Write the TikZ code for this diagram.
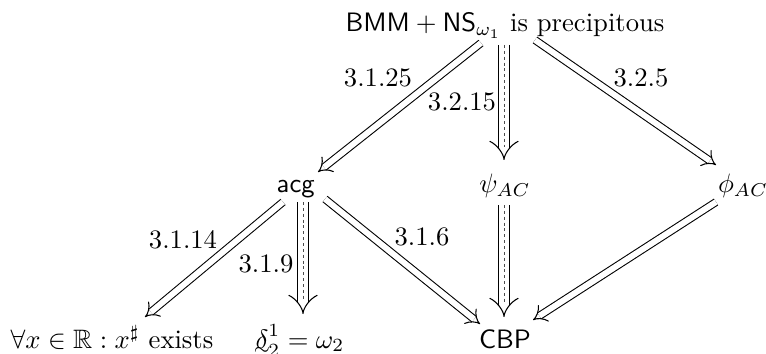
\documentclass[tikz,border=0pt]{standalone}
\usepackage{amsmath, amssymb}
\usepackage{tikz}
\usetikzlibrary{arrows.meta, positioning, calc}

\newcommand{\tdelta}{\ooalign{$\delta$\cr\hidewidth\raisebox{-0.6ex}{$\scriptstyle\sim$}\hidewidth\cr}}

\tikzset{
  stmt/.style={anchor=base, inner sep=1pt},
  dbl/.style={double, double distance=2.2pt, line width=0.4pt, -{Implies}},
  trpl/.style={preaction={draw, double, double distance=3.6pt, line width=0.4pt, -{Implies}, shorten >=0pt},
               line width=0.35pt, black!70, dash pattern=on 1.1pt off 1.1pt, shorten >=5pt},
  lbl/.style={inner sep=1pt}
}

\begin{document}
\begin{tikzpicture}[x=0.0132cm, y=-0.0132cm]
    \useasboundingbox (0,0) rectangle (766,354);
    % statements
    \node[stmt] (top) at (505,32) {$\mathsf{BMM}+\mathsf{NS}_{\omega_1}$ is precipitous};
    \node[stmt] (acg) at (296,193) {$\mathsf{acg}$};
    \node[stmt] (psi) at (505,193) {$\psi_{AC}$};
    \node[stmt] (phi) at (743,193) {$\phi_{AC}$};
    \node[stmt] (sharp) at (112,348) {$\forall x\in\mathbb{R}: x^\sharp$ exists};
    \node[stmt] (delta) at (300,348) {$\tdelta^1_2=\omega_2$};
    \node[stmt] (cbp) at (505,348) {$\mathsf{CBP}$};
    % implications
    \draw[dbl] ($(top.base)+(-24,11)$) -- ($(acg.base)+(22,-21)$);
    \draw[trpl] ($(top.base)+(-1,13)$) -- ($(psi.base)+(-1,-33)$);
    \draw[dbl] ($(top.base)+(30,8)$) -- ($(phi.base)+(-27,-28)$);
    \draw[dbl] ($(acg.base)+(-13,9)$) -- ($(sharp.base)+(33,-31)$);
    \draw[trpl] ($(acg.base)+(7,9)$) -- ($(delta.base)+(3,-34)$);
    \draw[dbl] ($(acg.base)+(29,6)$) -- ($(cbp.base)+(-25,-24)$);
    \draw[trpl] ($(psi.base)+(-1,12)$) -- ($(cbp.base)+(-1,-31)$);
    \draw[dbl] ($(phi.base)+(-27,9)$) -- ($(cbp.base)+(28,-28)$);
    % labels
    \node[lbl] (l1) at (378,78) {$3.1.25$};
    \node[lbl] (l2) at (462,102) {$3.2.15$};
    \node[lbl] (l3) at (641,78) {$3.2.5$};
    \node[lbl] (l4) at (183,240) {$3.1.14$};
    \node[lbl] (l5) at (266,264) {$3.1.9$};
    \node[lbl] (l6) at (422,237) {$3.1.6$};
\end{tikzpicture}
\end{document}
